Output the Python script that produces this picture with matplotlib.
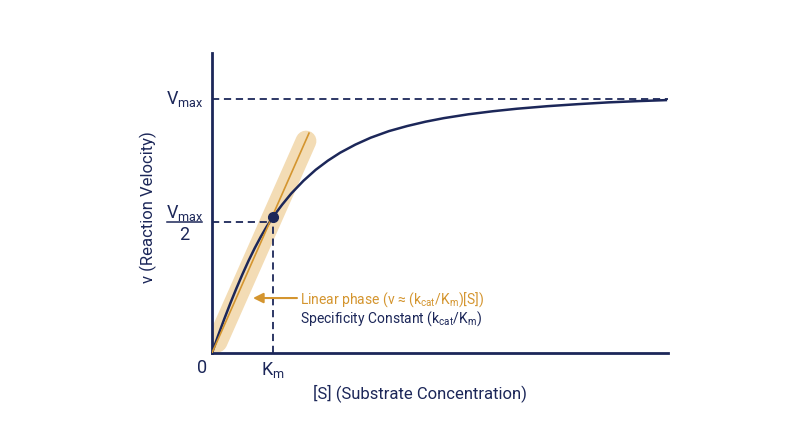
import matplotlib
matplotlib.use("Agg")
import matplotlib.pyplot as plt
from matplotlib import transforms

plt.rcParams['font.family'] = ['Roboto', 'DejaVu Sans']
plt.rcParams['mathtext.fontset'] = 'custom'
plt.rcParams['mathtext.rm'] = 'Roboto'
plt.rcParams['mathtext.it'] = 'Roboto'
plt.rcParams['mathtext.default'] = 'regular'

NAVY = '#1c2759'
ORANGE = '#d4952f'
BAND = '#f3dcb5'

# ---- data (Km = 1, Vmax = 1) ----
conc = [0, 0.1, 0.2, 0.3, 0.4, 0.5, 0.6, 0.7, 0.8, 0.9, 1.0, 1.15, 1.3, 1.5,
        1.7, 1.9, 2.1, 2.35, 2.6, 2.9, 3.2, 3.5, 3.8, 4.2, 4.6, 5.0, 5.5,
        6.0, 6.5, 7.0, 7.46]
velocity = [0, 0.068, 0.133, 0.195, 0.254, 0.310, 0.363, 0.412, 0.457, 0.498,
            0.535, 0.583, 0.627, 0.677, 0.720, 0.756, 0.787, 0.819, 0.846,
            0.872, 0.892, 0.909, 0.923, 0.938, 0.950, 0.960, 0.970, 0.978,
            0.985, 0.990, 0.994]
vmax = 1.0
vhalf_line = 0.515
km = 1.0
km_point = (0.995, 0.535)
linear_x = [0, 1.59]
linear_v = [0, 0.864]
band_x = [0.082, 1.541]
band_v = [0.043, 0.833]
xmax = 7.475
ymax = 1.179

fig = plt.figure(figsize=(8, 4.47), dpi=100)
ax = fig.add_axes([212/800, 94/447, 456/800, 300/447])
ax.set_xlim(0, xmax)
ax.set_ylim(0, ymax)
for s in ['top', 'right']:
    ax.spines[s].set_visible(False)
for s in ['left', 'bottom']:
    ax.spines[s].set_color(NAVY)
    ax.spines[s].set_linewidth(2.0)
ax.set_xticks([])
ax.set_yticks([])

# guide lines
ax.plot([0, xmax], [vmax, vmax], color=NAVY, lw=1.3, dashes=(4, 2.6), zorder=2)
ax.plot([0, km_point[0] - 0.05], [vhalf_line, vhalf_line], color=NAVY, lw=1.3,
        dashes=(4, 2.6), zorder=2)
ax.plot([km, km], [0, vhalf_line], color=NAVY, lw=1.3, dashes=(4, 2.6), zorder=2)

# linear phase band and line
ax.plot(band_x, band_v, color=BAND, lw=15, solid_capstyle='round', zorder=1)
ax.plot(conc, velocity, color=NAVY, lw=1.8, zorder=3, solid_capstyle='butt',
        solid_joinstyle='round')
ax.plot(linear_x, linear_v, color=ORANGE, lw=1.2, zorder=4)
ax.plot([km_point[0]], [km_point[1]], 'o', color=NAVY, ms=7, zorder=5)

# y tick-like labels
yax = transforms.blended_transform_factory(ax.transAxes, ax.transData)
ax.annotate(r'V$_{max}$', xy=(0, vmax), xycoords=yax, xytext=(-8, -5),
            textcoords='offset pixels', ha='right', va='baseline',
            fontsize=13, color=NAVY)
ax.annotate(r'V$_{max}$', xy=(0, vhalf_line), xycoords=yax, xytext=(-27.5, 4),
            textcoords='offset pixels', ha='center', va='baseline',
            fontsize=13, color=NAVY)
ax.annotate('2', xy=(0, vhalf_line), xycoords=yax, xytext=(-27.5, -18),
            textcoords='offset pixels', ha='center', va='baseline',
            fontsize=13, color=NAVY)
ax.plot([-45/456, -10/456], [vhalf_line, vhalf_line], transform=yax,
        color=NAVY, lw=1.1, clip_on=False)

# x tick-like labels
ax.annotate('0', xy=(0, 0), xycoords='data', xytext=(-10, -20),
            textcoords='offset pixels', ha='center', va='baseline',
            fontsize=13, color=NAVY, annotation_clip=False)
ax.annotate(r'K$_m$', xy=(km, 0), xycoords='data', xytext=(0, -22),
            textcoords='offset pixels', ha='center', va='baseline',
            fontsize=13, color=NAVY, annotation_clip=False)

# annotation
ax.annotate('', xy=(0.672, 0.216), xytext=(1.393, 0.216),
            arrowprops=dict(arrowstyle='-|>,head_length=0.6,head_width=0.3',
                            color=ORANGE, lw=1.5, shrinkA=0, shrinkB=0))
ax.text(1.443, 0.196, r'Linear phase (v ≈ (k$_{cat}$/K$_m$)[S])', color=ORANGE,
        fontsize=10, ha='left', va='baseline')
ax.text(1.443, 0.118, r'Specificity Constant (k$_{cat}$/K$_m$)', color=NAVY,
        fontsize=10, ha='left', va='baseline')

# axis labels
fig.text(148/800, 1 - 207/447, 'v (Reaction Velocity)', rotation=90,
         ha='center', va='center', fontsize=12, color=NAVY)
fig.text(420/800, 1 - 393/447, '[S] (Substrate Concentration)',
         ha='center', va='center', fontsize=12, color=NAVY)

fig.savefig('out.png', dpi=100)
